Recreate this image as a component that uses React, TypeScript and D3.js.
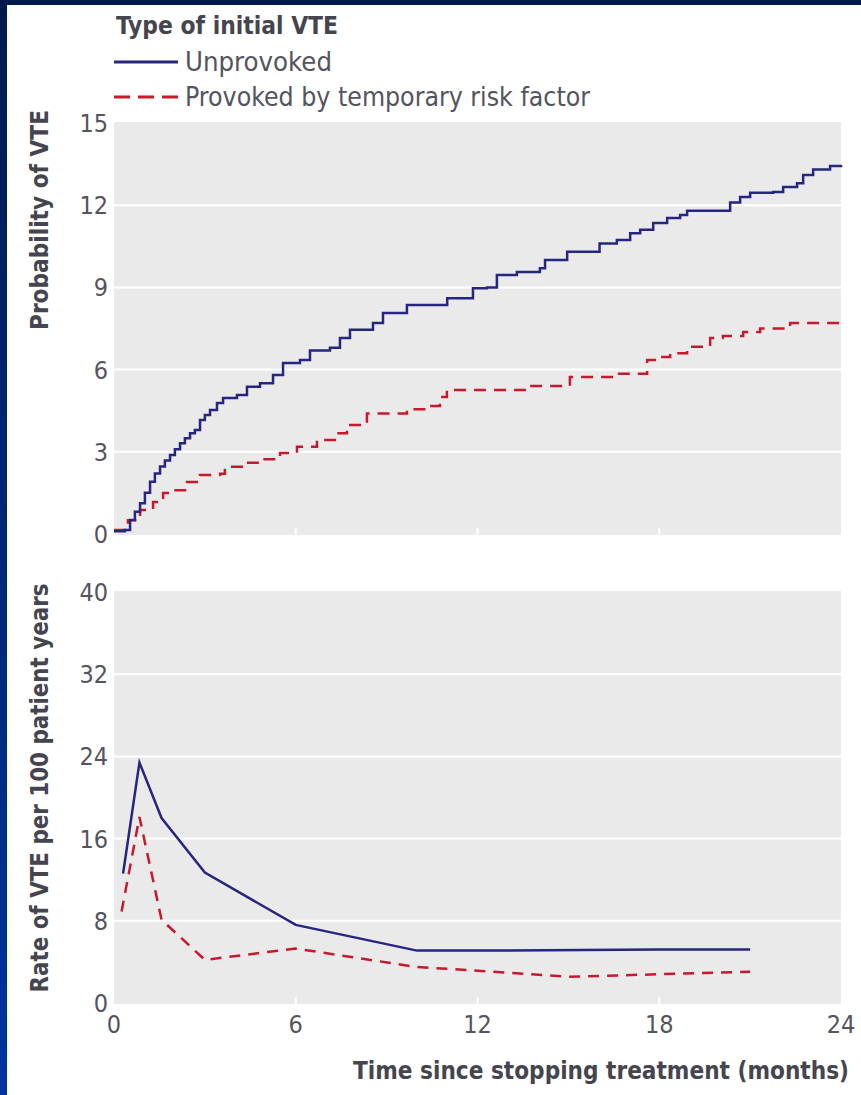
import React from "react";
import * as d3 from "d3";

// ---- Data ----
const unprovokedTime = [0, 0.36, 0.53, 0.69, 0.86, 1.02, 1.19, 1.35, 1.52, 1.68, 1.85, 2.01, 2.18, 2.34, 2.51, 2.67, 2.84, 3.0, 3.17, 3.4, 3.6, 4.06, 4.39, 4.82, 5.25, 5.58, 6.14, 6.47, 7.13, 7.46, 7.79, 8.55, 8.88, 9.67, 10.53, 11.0, 11.85, 12.31, 12.64, 13.3, 14.06, 14.23, 14.96, 15.8, 16.03, 16.6, 17.04, 17.37, 17.8, 18.26, 18.69, 18.92, 20.0, 20.34, 20.67, 21.0, 21.76, 22.09, 22.55, 22.75, 23.08, 23.64, 24.0];
const unprovokedProb = [0.1, 0.15, 0.51, 0.81, 1.12, 1.51, 1.91, 2.21, 2.46, 2.68, 2.88, 3.09, 3.31, 3.49, 3.68, 3.8, 4.16, 4.34, 4.53, 4.78, 4.96, 5.07, 5.37, 5.5, 5.8, 6.24, 6.35, 6.7, 6.8, 7.15, 7.45, 7.7, 8.07, 8.36, 8.36, 8.6, 8.97, 9.0, 9.45, 9.56, 9.7, 10.0, 10.3, 10.3, 10.6, 10.73, 10.98, 11.1, 11.35, 11.53, 11.64, 11.8, 11.8, 12.1, 12.3, 12.45, 12.48, 12.66, 12.8, 13.1, 13.3, 13.43, 13.47];

const provokedTime = [0, 0.46, 0.86, 1.29, 1.62, 1.95, 2.41, 2.84, 3.5, 3.66, 4.26, 4.82, 5.48, 6.04, 6.7, 7.36, 7.69, 8.35, 9.67, 10.33, 10.76, 10.99, 13.63, 15.05, 16.54, 17.6, 17.93, 18.36, 18.92, 19.68, 20.1, 20.77, 21.33, 22.32, 24.0];
const provokedProb = [0.15, 0.5, 0.88, 1.17, 1.5, 1.6, 1.9, 2.15, 2.2, 2.45, 2.6, 2.73, 2.96, 3.18, 3.43, 3.68, 3.98, 4.4, 4.55, 4.67, 5.0, 5.26, 5.4, 5.73, 5.85, 6.35, 6.46, 6.6, 6.83, 7.15, 7.23, 7.37, 7.5, 7.7, 7.7];

const rateUnprovokedTime = [0.3, 0.84, 1.57, 3.0, 6.0, 10.0, 12.0, 18.0, 21.0];
const rateUnprovoked = [12.6, 23.4, 18.0, 12.7, 7.6, 5.1, 5.1, 5.2, 5.2];
const rateProvokedTime = [0.25, 0.84, 1.57, 3.0, 6.0, 10.0, 12.0, 15.0, 18.0, 21.0];
const rateProvoked = [8.9, 18.1, 8.1, 4.2, 5.3, 3.5, 3.15, 2.55, 2.8, 3.05];

const xTicks = [0, 6, 12, 18, 24];
const probTicks = [0, 3, 6, 9, 12, 15];
const rateTicks = [0, 8, 16, 24, 32, 40];

const legendTitle = "Type of initial VTE";
const seriesNames = ["Unprovoked", "Provoked by temporary risk factor"];

// ---- Style ----
const W = 861;
const H = 1095;
const NAVY = "#262680";
const RED = "#c8182c";
const PANEL = "#ebeaea";
const TEXT = "#54545f";
const TITLE = "#45454f";
const FONT = "'DejaVu Sans Condensed', 'DejaVu Sans', sans-serif";

export default function App() {
  const x = d3.scaleLinear().domain([0, 24]).range([114, 841]);
  const yTop = d3.scaleLinear().domain([0, 15]).range([534, 123]);
  const yBot = d3.scaleLinear().domain([0, 40]).range([1003, 592]);

  const stepLine = d3
    .line<[number, number]>()
    .x((d) => x(d[0]))
    .y((d) => yTop(d[1]))
    .curve(d3.curveStepAfter);
  const rateLine = d3
    .line<[number, number]>()
    .x((d) => x(d[0]))
    .y((d) => yBot(d[1]));

  const upData = unprovokedTime.map((t, i) => [t, unprovokedProb[i]] as [number, number]);
  const pData = provokedTime.map((t, i) => [t, provokedProb[i]] as [number, number]);
  const ruData = rateUnprovokedTime.map((t, i) => [t, rateUnprovoked[i]] as [number, number]);
  const rpData = rateProvokedTime.map((t, i) => [t, rateProvoked[i]] as [number, number]);

  const panel = (y: d3.ScaleLinear<number, number>, ticks: number[], key: string) => {
    const [y0, y1] = y.range();
    return (
      <g key={key}>
        <rect x={x(0)} y={y1 - 1} width={x(24) - x(0)} height={y0 - y1 + 2} fill={PANEL} />
        {ticks.slice(1, -1).map((t) => (
          <line key={t} x1={x(0)} x2={x(24)} y1={y(t)} y2={y(t)} stroke="#fff" strokeWidth={2} />
        ))}
        {xTicks.slice(1, -1).map((t) => (
          <line key={"xt" + t} x1={x(t)} x2={x(t)} y1={y0 + 1} y2={y0 - 6} stroke="#fff" strokeWidth={2} />
        ))}
        {ticks.map((t) => (
          <text key={"l" + t} x={108} y={y(t)} dy="0.36em" textAnchor="end" fontSize={25} fill={TEXT} fontFamily={FONT}>
            {t}
          </text>
        ))}
      </g>
    );
  };

  return (
    <svg width={W} height={H} style={{ position: "absolute", left: 0, top: 0, background: "#fff" }}>
      <defs>
        <linearGradient id="leftband" x1="0" y1="0" x2="0" y2="1">
          <stop offset="0" stopColor="#001a4d" />
          <stop offset="1" stopColor="#0034a0" />
        </linearGradient>
      </defs>
      <rect x={0} y={0} width={W} height={H} fill="#fff" />
      <rect x={0} y={0} width={W} height={5} fill="#001a4d" />
      <rect x={0} y={0} width={7} height={H} fill="url(#leftband)" />

      {/* Legend */}
      <text x={116} y={34} fontSize={24} fontWeight="bold" fill={TITLE} fontFamily={FONT} textLength={222} lengthAdjust="spacingAndGlyphs">
        {legendTitle}
      </text>
      <line x1={114} x2={178} y1={62} y2={62} stroke={NAVY} strokeWidth={3} />
      <text x={185} y={71} fontSize={27} fill={TEXT} fontFamily={FONT} textLength={147} lengthAdjust="spacingAndGlyphs">
        {seriesNames[0]}
      </text>
      <line x1={114} x2={178} y1={97} y2={97} stroke={RED} strokeWidth={3} strokeDasharray="16 8" />
      <text x={185} y={106} fontSize={27} fill={TEXT} fontFamily={FONT} textLength={405} lengthAdjust="spacingAndGlyphs">
        {seriesNames[1]}
      </text>

      {/* Top panel */}
      {panel(yTop, probTicks, "top")}
      <path d={stepLine(pData) || ""} fill="none" stroke={RED} strokeWidth={2.5} strokeDasharray="12 8" />
      <path d={stepLine(upData) || ""} fill="none" stroke={NAVY} strokeWidth={2.5} />
      <text transform="translate(48,220) rotate(-90)" textAnchor="middle" fontSize={24} fontWeight="bold" fill={TITLE} fontFamily={FONT} textLength={220} lengthAdjust="spacingAndGlyphs">
        Probability of VTE
      </text>

      {/* Bottom panel */}
      {panel(yBot, rateTicks, "bot")}
      <path d={rateLine(rpData) || ""} fill="none" stroke={RED} strokeWidth={2.5} strokeDasharray="11 8" />
      <path d={rateLine(ruData) || ""} fill="none" stroke={NAVY} strokeWidth={2.5} />
      <text transform="translate(48,788) rotate(-90)" textAnchor="middle" fontSize={24} fontWeight="bold" fill={TITLE} fontFamily={FONT} textLength={409} lengthAdjust="spacingAndGlyphs">
        Rate of VTE per 100 patient years
      </text>

      {xTicks.map((t) => (
        <text key={"x" + t} x={x(t)} y={1033} textAnchor="middle" fontSize={25} fill={TEXT} fontFamily={FONT}>
          {t}
        </text>
      ))}
      <text x={849} y={1079} textAnchor="end" fontSize={24} fontWeight="bold" fill={TITLE} fontFamily={FONT} textLength={496} lengthAdjust="spacingAndGlyphs">
        Time since stopping treatment (months)
      </text>
    </svg>
  );
}
